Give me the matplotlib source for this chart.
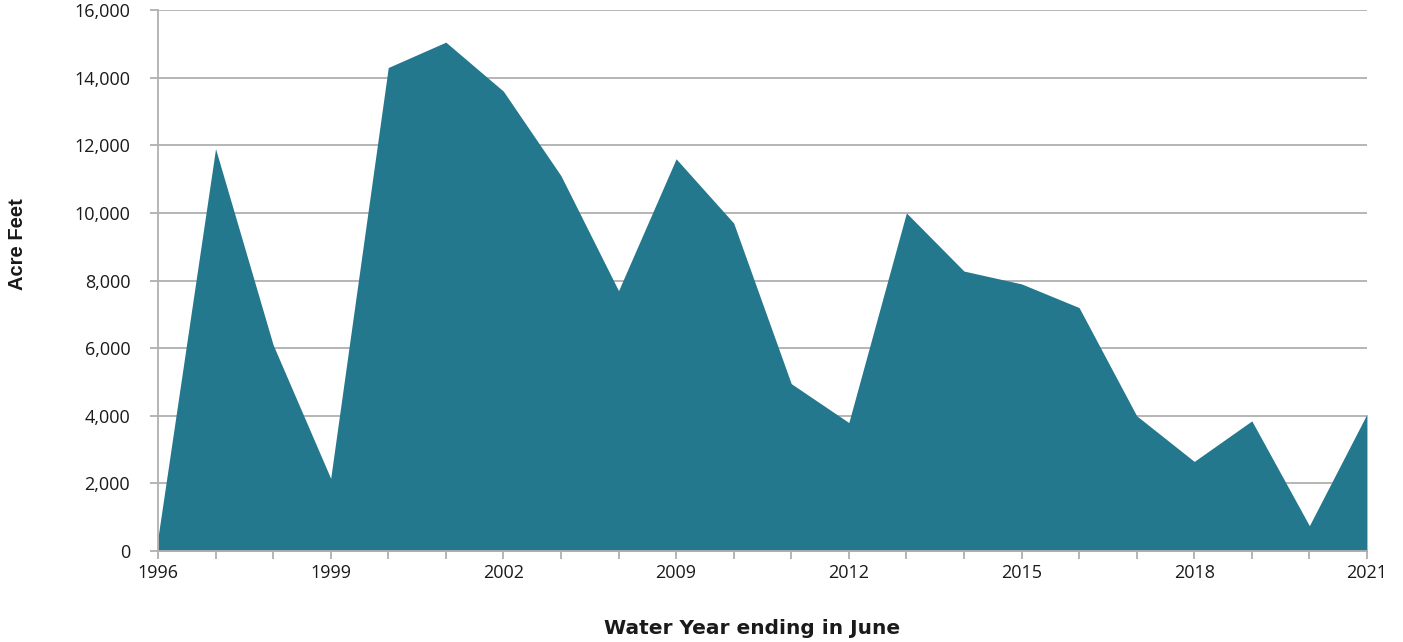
import numpy as np
import matplotlib.pyplot as plt

# categories (only every third one is labelled on the axis)
years = ['1996', '1997', '1998', '1999', '2000', '2001', '2002', '2003',
         '2008', '2009', '2010', '2011', '2012', '2013', '2014', '2015',
         '2016', '2017', '2018', '2019', '2020', '2021']
acre_feet = [400, 11900, 6100, 2150, 14300, 15050, 13600, 11100,
             7700, 11600, 9700, 4950, 3800, 10000, 8280, 7900,
             7200, 4000, 2650, 3850, 750, 4050]
y_ticks = np.arange(0, 16001, 2000)

fig = plt.figure(figsize=(14.03, 6.42), dpi=100)
ax = fig.add_axes([0.1126, 0.1417, 0.8617, 0.8427])

x = np.arange(len(years))
ax.fill_between(x, 0, acre_feet, color='#24788d', linewidth=0, zorder=2)

ax.set_xlim(0, len(years) - 1)
ax.set_ylim(0, 16000)
ax.set_yticks(y_ticks)
ax.set_yticklabels([f'{v:,}' for v in y_ticks], fontfamily='Open Sans', fontsize=13, color='#1a1a1a')
ax.set_xticks(x)
ax.set_xticklabels([y if i % 3 == 0 else '' for i, y in enumerate(years)],
                   fontfamily='Open Sans', fontsize=13, color='#1a1a1a')

ax.grid(axis='y', color='#b0b0b0', linewidth=1.3, zorder=1)
ax.tick_params(axis='y', length=6, color='#b0b0b0', width=1.3, pad=14)
ax.tick_params(axis='x', length=6, color='#b0b0b0', width=1.3, pad=3)
for s in ['top', 'right']:
    ax.spines[s].set_visible(False)
for s in ['left', 'bottom']:
    ax.spines[s].set_color('#b0b0b0')
    ax.spines[s].set_linewidth(1.3)

fig.text(752 / 1403, 1 - 628 / 642, 'Water Year ending in June', fontfamily='DejaVu Sans',
         fontweight='bold', fontsize=14.5, color='#1a1a1a', ha='center', va='center')
fig.text(18 / 1403, 1 - 244 / 642, 'Acre Feet', fontfamily='Liberation Sans',
         fontweight='bold', fontsize=14.5, color='#1a1a1a', ha='center', va='center', rotation=90)

fig.savefig('out.png', dpi=100)
